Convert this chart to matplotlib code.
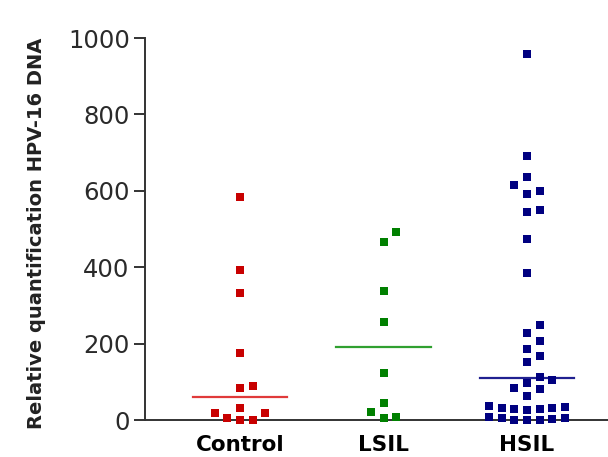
import numpy as np
import matplotlib
matplotlib.use("Agg")
import matplotlib.pyplot as plt

# groups and values
groups = ["Control", "LSIL", "HSIL"]
control = [583, 393, 332, 176, 90, 85, 31, 19, 19, 6, 0, 0]
lsil = [493, 467, 338, 256, 122, 45, 22, 9, 4]
hsil = [957, 691, 637, 615, 599, 591, 550, 544, 473, 386,
        249, 227, 207, 185, 168, 151,
        112, 106, 98, 83, 80, 64,
        36, 34, 32, 31, 29, 28, 27, 8, 6, 4, 2, 1, 0, 0]
center_lines = [59, 192, 109]

colors = ["#c80000", "#008000", "#000080"]
line_colors = ["#e03a3a", "#30a030", "#202090"]

fig = plt.figure(figsize=(6.08, 4.57), dpi=100)
ax = fig.add_axes([145 / 608, 37 / 457, 463 / 608, 382 / 457])
ax.set_xlim(-0.662, 2.564)
ax.set_ylim(0, 1000)


def swarm_x(xc, vals, slot_px=12.7, gap_px=10.3):
    # simple column swarm in pixel space
    vals = np.sort(np.asarray(vals, dtype=float))
    pts = ax.transData.transform(np.column_stack([np.full(len(vals), xc), vals]))
    cx = pts[0, 0]
    placed = []
    xs = []
    order = [0, 1, -1, 2, -2, 3, -3, 4, -4, 5, -5]
    for py in pts[:, 1]:
        for s in order:
            if all(not (ps == s and abs(py - pp) < gap_px) for ps, pp in placed):
                placed.append((s, py))
                xs.append(cx + s * slot_px)
                break
    back = ax.transData.inverted().transform(np.column_stack([xs, pts[:, 1]]))
    return back[:, 0], vals


for i, vals in enumerate([control, lsil, hsil]):
    x, y = swarm_x(i, vals)
    ax.scatter(x, y, marker="s", s=40, color=colors[i], linewidths=0,
               clip_on=False, zorder=3)
    ax.plot([i - 0.33, i + 0.33], [center_lines[i]] * 2, color=line_colors[i],
            lw=1.6, zorder=2)

ax.spines["top"].set_visible(False)
ax.spines["right"].set_visible(False)
for sp in ["left", "bottom"]:
    ax.spines[sp].set_color("#333333")
    ax.spines[sp].set_linewidth(1.4)

ax.set_yticks([0, 200, 400, 600, 800, 1000])
ax.tick_params(axis="y", length=8, width=1.4, color="#333333",
               labelsize=17.5, labelcolor="#2a2a2a", pad=3)
ax.set_xticks(range(3))
ax.set_xticklabels(groups, fontsize=15.5, fontweight="bold")
ax.tick_params(axis="x", length=0, pad=11)
ax.set_ylabel("Relative quantification HPV-16 DNA", fontsize=14,
              fontweight="bold", color="#222222")
ax.yaxis.set_label_coords(-0.214, 0.49)

fig.savefig("out.png", dpi=100)
